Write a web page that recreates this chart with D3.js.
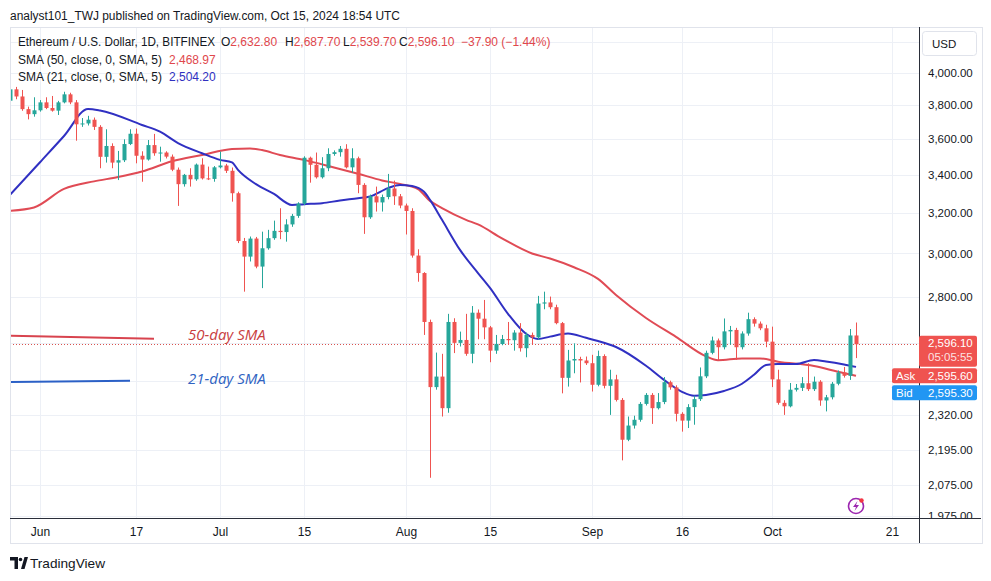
<!DOCTYPE html>
<html>
<head>
<meta charset="utf-8">
<script src="https://cdn.jsdelivr.net/npm/d3@7"></script>
<style>
  html, body { margin: 0; padding: 0; background: #fff; }
  svg { display: block; font-family: "Liberation Sans", Arial, sans-serif; }
</style>
</head>
<body>
<svg id="chart" width="991" height="581"></svg>
<script>
// ETH/USD daily candles, May 27 -> Oct 15 2024
const firstDay = "2024-05-27";
const opens = [
  3826, 3896, 3852, 3775, 3745,
  3768, 3816, 3782, 3766, 3816, 3865, 3816, 3685, 3690, 3712, 3670, 3499, 3560, 3467, 3480,
  3571, 3630, 3505, 3484, 3565, 3519, 3523, 3500, 3428, 3350, 3400, 3376, 3456, 3381, 3378,
  3441, 3451, 3422, 3302, 3060, 2985, 3072, 2938, 3025, 3074, 3110, 3104, 3142, 3185, 3248,
  3494, 3455, 3387, 3436, 3515, 3525, 3544, 3441, 3491, 3346, 3178, 3286, 3254, 3282, 3327, 3286,
  3238, 3210, 2990, 2908, 2690, 2425, 2466, 2345, 2690, 2602, 2614, 2557, 2730, 2704, 2667,
  2570, 2597, 2618, 2613, 2645, 2580, 2635, 2625, 2770, 2775, 2754, 2685, 2461, 2530, 2536, 2530,
  2519, 2434, 2548, 2430, 2455, 2376, 2230, 2281, 2302, 2361, 2395, 2345, 2368, 2444, 2424,
  2324, 2299, 2349, 2379, 2467, 2561, 2612, 2584, 2650, 2656, 2584, 2641, 2702, 2683, 2663,
  2607, 2455, 2365, 2352, 2415, 2422, 2440, 2417, 2446, 2374, 2386, 2438, 2482, 2469, 2632.8
];
const highs = [
  3925, 3911, 3892, 3790, 3847,
  3830, 3847, 3855, 3825, 3881, 3875, 3830, 3722, 3735, 3725, 3680, 3656, 3575, 3532, 3598,
  3656, 3660, 3530, 3594, 3629, 3556, 3530, 3512, 3440, 3405, 3436, 3462, 3491, 3445, 3448,
  3528, 3460, 3440, 3310, 3075, 3082, 3080, 3106, 3115, 3161, 3224, 3168, 3195, 3255, 3502,
  3500, 3523, 3497, 3547, 3535, 3560, 3570, 3547, 3500, 3355, 3295, 3337, 3295, 3405, 3369, 3298,
  3248, 3224, 3020, 2912, 2700, 2562, 2557, 2725, 2706, 2649, 2725, 2759, 2744, 2786, 2673,
  2635, 2635, 2690, 2655, 2685, 2645, 2645, 2804, 2823, 2801, 2765, 2690, 2573, 2600, 2545, 2546,
  2553, 2570, 2555, 2493, 2473, 2383, 2314, 2317, 2368, 2402, 2402, 2402, 2464, 2450, 2432,
  2330, 2360, 2392, 2502, 2570, 2628, 2620, 2705, 2673, 2665, 2650, 2730, 2710, 2692, 2678,
  2670, 2493, 2375, 2441, 2437, 2464, 2519, 2466, 2452, 2395, 2445, 2490, 2504, 2660, 2687.7
];
const lows = [
  3818, 3835, 3765, 3714, 3730,
  3760, 3775, 3760, 3740, 3810, 3805, 3590, 3670, 3678, 3652, 3436, 3467, 3436, 3372, 3470,
  3565, 3463, 3363, 3478, 3505, 3472, 3490, 3420, 3236, 3337, 3337, 3368, 3375, 3372, 3363,
  3435, 3410, 3258, 3050, 2823, 2962, 2930, 2839, 3018, 3066, 3069, 3057, 3130, 3175, 3240,
  3358, 3380, 3380, 3420, 3505, 3500, 3435, 3412, 3302, 3095, 3170, 3207, 3207, 3270, 3241, 3224,
  3092, 2980, 2868, 2635, 2099, 2415, 2314, 2328, 2560, 2587, 2549, 2519, 2617, 2617, 2523,
  2557, 2592, 2594, 2570, 2566, 2543, 2594, 2615, 2745, 2745, 2680, 2401, 2427, 2479, 2443, 2512,
  2408, 2428, 2420, 2320, 2370, 2158, 2225, 2270, 2295, 2355, 2287, 2340, 2360, 2415, 2296,
  2259, 2272, 2284, 2372, 2460, 2555, 2532, 2575, 2594, 2532, 2575, 2632, 2670, 2655, 2584,
  2425, 2358, 2320, 2348, 2408, 2410, 2410, 2410, 2354, 2333, 2378, 2432, 2462, 2453, 2539.7
];
const closes = [
  3896, 3852, 3775, 3745, 3768,
  3816, 3782, 3766, 3816, 3865, 3816, 3685, 3690, 3712, 3670, 3499, 3560, 3467, 3480, 3571,
  3630, 3505, 3484, 3565, 3519, 3523, 3500, 3428, 3350, 3400, 3376, 3456, 3381, 3378, 3441,
  3451, 3422, 3302, 3060, 2985, 3072, 2938, 3025, 3074, 3110, 3104, 3142, 3185, 3248, 3494,
  3455, 3387, 3436, 3515, 3525, 3544, 3441, 3491, 3346, 3178, 3286, 3254, 3282, 3327, 3286, 3238,
  3210, 2990, 2908, 2690, 2425, 2466, 2345, 2690, 2602, 2614, 2557, 2730, 2704, 2667, 2570,
  2597, 2618, 2613, 2645, 2580, 2635, 2625, 2770, 2775, 2754, 2685, 2461, 2530, 2536, 2530, 2519,
  2434, 2548, 2430, 2455, 2376, 2230, 2281, 2302, 2361, 2395, 2345, 2368, 2444, 2424, 2324,
  2299, 2349, 2379, 2467, 2561, 2612, 2584, 2650, 2656, 2584, 2641, 2702, 2683, 2663, 2607,
  2455, 2365, 2352, 2415, 2422, 2440, 2417, 2446, 2374, 2386, 2438, 2482, 2469, 2632.8, 2596.1
];
// day change shown in the legend (against the previous exchange close)
const lastChange = -37.90;
const lastChangePct = -1.44;

// moving averages, sampled off the drawn lines
const sma21Days = ["2024-05-27","2024-06-01","2024-06-05","2024-06-09","2024-06-11","2024-06-18","2024-06-21",
  "2024-06-24","2024-06-28","2024-07-01","2024-07-03","2024-07-04","2024-07-07","2024-07-10","2024-07-13",
  "2024-07-15","2024-07-18","2024-07-21","2024-07-24","2024-07-26","2024-07-29","2024-07-31","2024-08-02",
  "2024-08-04","2024-08-05","2024-08-07","2024-08-10","2024-08-13","2024-08-15","2024-08-18","2024-08-21",
  "2024-08-23","2024-08-25","2024-08-28","2024-08-31","2024-09-02","2024-09-05","2024-09-10","2024-09-13",
  "2024-09-16","2024-09-18","2024-09-20","2024-09-23","2024-09-26","2024-09-28","2024-09-30","2024-10-02",
  "2024-10-05","2024-10-08","2024-10-10","2024-10-13","2024-10-15"];
const sma21Values = [3293, 3469, 3617, 3776, 3767, 3681, 3642,
  3576, 3519, 3482, 3468, 3427, 3350, 3298, 3241,
  3245, 3250, 3264, 3276, 3285, 3329, 3346, 3340,
  3310, 3267, 3165, 3017, 2908, 2840, 2725, 2640,
  2618, 2628, 2641, 2623, 2610, 2585, 2509, 2453,
  2407, 2392, 2395, 2410, 2438, 2473, 2512, 2516,
  2516, 2532, 2526, 2514, 2504.2];

const sma50Days = ["2024-05-27","2024-05-31","2024-06-05","2024-06-10","2024-06-14","2024-06-18","2024-06-23",
  "2024-06-28","2024-07-03","2024-07-06","2024-07-08","2024-07-11","2024-07-15","2024-07-20","2024-07-24",
  "2024-07-28","2024-07-31","2024-08-03","2024-08-05","2024-08-07","2024-08-11","2024-08-13","2024-08-17",
  "2024-08-22","2024-08-25","2024-08-29","2024-09-02","2024-09-05","2024-09-10","2024-09-15","2024-09-20",
  "2024-09-22","2024-09-26","2024-09-29","2024-10-02","2024-10-08","2024-10-12","2024-10-15"];
const sma50Values = [3211, 3228, 3325, 3365, 3388, 3418, 3474,
  3509, 3543, 3546, 3537, 3509, 3482, 3440, 3406,
  3370, 3351, 3324, 3262, 3225, 3165, 3142, 3073,
  3000, 2976, 2935, 2881, 2808, 2707, 2627, 2547,
  2531, 2538, 2538, 2525, 2508, 2485, 2468.97];

// grid levels; some of their labels sit under the USD box and the price tags
const gridPrices = [4200, 4000, 3800, 3600, 3400, 3200, 3000, 2800, 2600, 2450, 2320, 2195, 2075, 1975];
const labelPrices = [4000, 3800, 3600, 3400, 3200, 3000, 2800, 2320, 2195, 2075, 1975];
const timeTicks = ["2024-06-01","2024-06-17","2024-07-01","2024-07-15","2024-08-01","2024-08-15",
  "2024-09-01","2024-09-16","2024-10-01","2024-10-21"];
const timeTickLabels = ["Jun", "17", "Jul", "15", "Aug", "15", "Sep", "16", "Oct", "21"];

const UP = "#26a69a", DOWN = "#ef5350";
const TXT = "#131722";
const parse = d3.utcParse("%Y-%m-%d");
const fmt = d3.format(",.2f");

const svg = d3.select("#chart");
const plot = { left: 10, right: 919, top: 27, bottom: 518 };

const x = d3.scaleUtc()
  .domain([parse("2024-06-01"), parse("2024-10-21")])
  .range([40, 892]);
const y = d3.scaleLog()
  .domain([3800, 2075])
  .range([105, 485]);

const days = opens.map((_, i) => d3.utcDay.offset(parse(firstDay), i));
const candles = days.map((d, i) => ({ date: d, o: opens[i], h: highs[i], l: lows[i], c: closes[i] }));

// frame
svg.append("rect")
  .attr("x", 10.5).attr("y", 27.5).attr("width", 972).attr("height", 516)
  .attr("fill", "none").attr("stroke", "#e0e3eb");

const defs = svg.append("defs");
defs.append("clipPath").attr("id", "plotClip")
  .append("rect").attr("x", plot.left + 1).attr("y", plot.top + 1)
  .attr("width", plot.right - plot.left - 1).attr("height", plot.bottom - plot.top - 1);
defs.append("clipPath").attr("id", "scaleClip")
  .append("rect").attr("x", plot.right).attr("y", plot.top)
  .attr("width", 70).attr("height", plot.bottom - plot.top);

const main = svg.append("g").attr("clip-path", "url(#plotClip)");

// grid
main.append("g").selectAll("line").data(gridPrices).join("line")
  .attr("x1", plot.left).attr("x2", plot.right)
  .attr("y1", d => Math.round(y(d)) + 0.5).attr("y2", d => Math.round(y(d)) + 0.5)
  .attr("stroke", "#edf0f6");
main.append("g").selectAll("line").data(timeTicks).join("line")
  .attr("x1", d => Math.round(x(parse(d))) + 0.5).attr("x2", d => Math.round(x(parse(d))) + 0.5)
  .attr("y1", plot.top).attr("y2", plot.bottom)
  .attr("stroke", "#edf0f6");

// annotation lines drawn by the author
main.append("line").attr("x1", 10).attr("y1", 335.7).attr("x2", 154).attr("y2", 338.7)
  .attr("stroke", "#d8434e").attr("stroke-width", 2);
main.append("line").attr("x1", 10).attr("y1", 382).attr("x2", 130).attr("y2", 380.7)
  .attr("stroke", "#2b60c6").attr("stroke-width", 2);
svg.append("text").attr("x", 188).attr("y", 339.5)
  .attr("font-size", 15).attr("font-style", "italic").attr("fill", "#c9403f")
  .attr("font-family", "'Open Sans', sans-serif").text("50-day SMA");
svg.append("text").attr("x", 188).attr("y", 383.5)
  .attr("font-size", 15).attr("font-style", "italic").attr("fill", "#2f63c2")
  .attr("font-family", "'Open Sans', sans-serif").text("21-day SMA");

// last price dotted line
const lastClose = closes[closes.length - 1];
const lastY = y(lastClose);
main.append("line")
  .attr("x1", plot.left).attr("x2", plot.right)
  .attr("y1", Math.round(lastY) + 0.5).attr("y2", Math.round(lastY) + 0.5)
  .attr("stroke", "#d9534f").attr("stroke-dasharray", "1,2");

// moving averages
const smaLine = d3.line().x(d => x(d[0])).y(d => y(d[1])).curve(d3.curveMonotoneX);
main.append("path")
  .datum(sma50Days.map((d, i) => [parse(d), sma50Values[i]]))
  .attr("d", smaLine).attr("fill", "none").attr("stroke", "#e04b55").attr("stroke-width", 2);
main.append("path")
  .datum(sma21Days.map((d, i) => [parse(d), sma21Values[i]]))
  .attr("d", smaLine).attr("fill", "none").attr("stroke", "#3030c2").attr("stroke-width", 2);

// candles
const cg = main.append("g").selectAll("g").data(candles).join("g");
cg.append("line")
  .attr("x1", d => Math.round(x(d.date)) + 0.5).attr("x2", d => Math.round(x(d.date)) + 0.5)
  .attr("y1", d => y(d.h)).attr("y2", d => y(d.l))
  .attr("stroke", d => d.c >= d.o ? UP : DOWN);
cg.append("rect")
  .attr("x", d => Math.round(x(d.date)) - 1.5)
  .attr("width", 4)
  .attr("y", d => y(Math.max(d.o, d.c)))
  .attr("height", d => Math.max(1, Math.abs(y(d.o) - y(d.c))))
  .attr("fill", d => d.c >= d.o ? UP : DOWN);

// axes lines
svg.append("line").attr("x1", plot.right + 0.5).attr("x2", plot.right + 0.5)
  .attr("y1", plot.top).attr("y2", 543).attr("stroke", "#2a2e39");
svg.append("line").attr("x1", plot.left).attr("x2", 981)
  .attr("y1", plot.bottom + 0.5).attr("y2", plot.bottom + 0.5).attr("stroke", "#2a2e39");

// price scale (clipped at the time axis, so 1,975.00 is cut like in TradingView)
const yAxis = d3.axisRight(y).tickValues(labelPrices).tickFormat(fmt).tickSize(0).tickPadding(9);
svg.append("g")
  .attr("clip-path", "url(#scaleClip)")
  .append("g")
  .attr("transform", `translate(${plot.right},0)`)
  .call(yAxis)
  .call(g => g.select(".domain").remove())
  .call(g => g.selectAll("text")
    .attr("font-family", "'Liberation Sans', Arial, sans-serif")
    .attr("font-size", 11.5).attr("fill", TXT));

// time scale
const xAxis = d3.axisBottom(x)
  .tickValues(timeTicks.map(parse))
  .tickFormat((d, i) => timeTickLabels[i])
  .tickSize(0).tickPadding(9);
svg.append("g")
  .attr("transform", `translate(0,${plot.bottom})`)
  .call(xAxis)
  .call(g => g.select(".domain").remove())
  .call(g => g.selectAll("text")
    .attr("font-family", "'Liberation Sans', Arial, sans-serif")
    .attr("font-size", 12).attr("fill", TXT));

// USD box
svg.append("rect").attr("x", 922.5).attr("y", 31.5).attr("width", 54).attr("height", 24).attr("rx", 3)
  .attr("fill", "#fff").attr("stroke", "#e0e3eb");
svg.append("text").attr("x", 932).attr("y", 47.5).attr("font-size", 11.5).attr("fill", TXT).text("USD");

// price tags
const tagRed = "#ef5350", tagBlue = "#2196f3";
svg.append("rect").attr("x", 919).attr("y", lastY - 8.5).attr("width", 58).attr("height", 31).attr("rx", 2).attr("fill", tagRed);
svg.append("text").attr("x", 928).attr("y", lastY - 1).attr("dy", "0.35em")
  .attr("font-size", 11.5).attr("fill", "#fff").text(fmt(lastClose));
svg.append("text").attr("x", 928).attr("y", lastY + 13).attr("dy", "0.35em")
  .attr("font-size", 11.5).attr("fill", "#fff").attr("fill-opacity", 0.85).text("05:05:55");

const askBid = [
  { name: "Ask", value: 2595.6, color: tagRed, off: 24 },
  { name: "Bid", value: 2595.3, color: tagBlue, off: 41 }
];
askBid.forEach(t => {
  svg.append("rect").attr("x", 892).attr("y", lastY + t.off).attr("width", 85).attr("height", 15)
    .attr("rx", 2).attr("fill", t.color);
  svg.append("text").attr("x", 896).attr("y", lastY + t.off + 7.5).attr("dy", "0.35em")
    .attr("font-size", 11.5).attr("fill", "#fff").text(t.name);
  svg.append("text").attr("x", 928).attr("y", lastY + t.off + 7.5).attr("dy", "0.35em")
    .attr("font-size", 11.5).attr("fill", "#fff").text(fmt(t.value));
});

// header
svg.append("text").attr("x", 10).attr("y", 19.5)
  .attr("font-size", 12.5).attr("fill", TXT)
  .attr("textLength", 390).attr("lengthAdjust", "spacingAndGlyphs")
  .text("analyst101_TWJ published on TradingView.com, Oct 15, 2024 18:54 UTC");

// legend
const legRed = "#e0474c", legBlue = "#3030c0";
const leg = svg.append("g").attr("font-size", 12).attr("fill", TXT);
leg.append("text").attr("x", 18).attr("y", 46)
  .attr("textLength", 197).attr("lengthAdjust", "spacingAndGlyphs")
  .text("Ethereum / U.S. Dollar, 1D, BITFINEX");
const ohlc = [
  { k: "O", v: fmt(opens[opens.length - 1]), x: 221 },
  { k: "H", v: fmt(highs[highs.length - 1]), x: 285 },
  { k: "L", v: fmt(lows[lows.length - 1]), x: 343 },
  { k: "C", v: fmt(lastClose), x: 399 }
];
ohlc.forEach(o => {
  const t = leg.append("text").attr("x", o.x).attr("y", 46);
  t.append("tspan").text(o.k);
  t.append("tspan").attr("fill", legRed).text(o.v);
});
leg.append("text").attr("x", 461).attr("y", 46).attr("fill", legRed)
  .text(`\u2212${Math.abs(lastChange).toFixed(2)} (\u2212${Math.abs(lastChangePct).toFixed(2)}%)`);
leg.append("text").attr("x", 18).attr("y", 64)
  .attr("textLength", 144).attr("lengthAdjust", "spacingAndGlyphs")
  .text("SMA (50, close, 0, SMA, 5)");
leg.append("text").attr("x", 169).attr("y", 64).attr("fill", legRed).text(fmt(sma50Values[sma50Values.length - 1]));
leg.append("text").attr("x", 18).attr("y", 81)
  .attr("textLength", 144).attr("lengthAdjust", "spacingAndGlyphs")
  .text("SMA (21, close, 0, SMA, 5)");
leg.append("text").attr("x", 169).attr("y", 81).attr("fill", legBlue).text(fmt(sma21Values[sma21Values.length - 1]));

// lightning badge
const bolt = svg.append("g").attr("transform", "translate(856,506)");
bolt.append("circle").attr("r", 7.5).attr("fill", "#fff").attr("stroke", "#9c27b0").attr("stroke-width", 1.6);
bolt.append("path").attr("d", "M1.5,-5 L-3,1 L0,1 L-1.5,5 L3,-1 L0,-1 Z").attr("fill", "#9c27b0");
bolt.append("circle").attr("cx", 5.5).attr("cy", -5.5).attr("r", 2.2).attr("fill", "#f23645");

// footer logo
const logo = svg.append("g").attr("fill", TXT);
logo.append("path").attr("d", "M10,557 H18 V569 H14.5 V560.5 H10 Z");
logo.append("circle").attr("cx", 20.5).attr("cy", 559.5).attr("r", 1.8);
logo.append("path").attr("d", "M21,569 L24.5,557 H28 L24.5,569 Z");
svg.append("text").attr("x", 30).attr("y", 568).attr("font-size", 13.5).attr("fill", TXT)
  .attr("textLength", 75).attr("lengthAdjust", "spacingAndGlyphs").text("TradingView");
</script>
</body>
</html>
